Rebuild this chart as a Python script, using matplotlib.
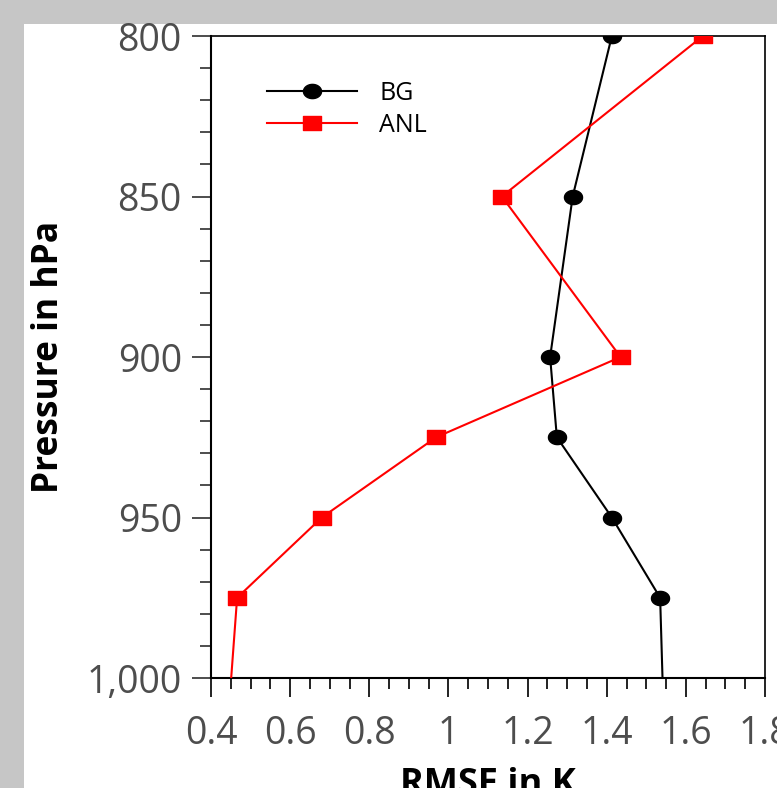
import numpy as np
import matplotlib
matplotlib.use("Agg")
import matplotlib.pyplot as plt
import matplotlib.ticker as mticker
from matplotlib.path import Path
from matplotlib.patches import Rectangle

# Perfiles verticales de RMSE (K) por nivel de presion (hPa)
pressure = [800, 850, 900, 925, 950, 975, 1000]
rmse_bg = [1.413, 1.314, 1.257, 1.274, 1.413, 1.535, 1.541]
rmse_anl = [1.643, 1.135, 1.435, 0.969, 0.680, 0.466, 0.451]

x_ticks = [0.4, 0.6, 0.8, 1.0, 1.2, 1.4, 1.6, 1.8]
y_ticks = [800, 850, 900, 950, 1000]

plt.rcParams["font.family"] = ["Open Sans", "DejaVu Sans"]

TICK_GREY = "#4d4d4d"

# marcadores algo aplastados, como en la figura original
t = np.linspace(0, 2 * np.pi, 60)
ellipse = Path(np.column_stack([1.27 * np.cos(t), np.sin(t)]), closed=True)
rect = Path([(-1.27, -1), (1.27, -1), (1.27, 1), (-1.27, 1), (-1.27, -1)], closed=True)

fig = plt.figure(figsize=(7.77, 7.88), dpi=100, facecolor="#c6c6c6")
fig.patches.append(Rectangle((24 / 777, 0), 1, (788 - 24) / 788,
                             transform=fig.transFigure, facecolor="white",
                             edgecolor="none", zorder=-10))

ax = fig.add_axes([211 / 777, (788 - 678) / 788, 554 / 777, 642 / 788])
ax.set_facecolor("white")

n_mark = slice(0, len(pressure) - 1)
ax.plot(rmse_bg, pressure, color="black", lw=1.5, marker=ellipse, ms=13,
        markevery=n_mark, label="BG", zorder=3)
ax.plot(rmse_anl, pressure, color="red", lw=1.5, marker=rect, ms=13.5,
        markevery=n_mark, label="ANL", zorder=3)

ax.set_xlim(0.4, 1.8)
ax.set_ylim(1000, 800)

ax.xaxis.set_major_locator(mticker.FixedLocator(x_ticks))
ax.xaxis.set_minor_locator(mticker.MultipleLocator(0.05))
ax.yaxis.set_major_locator(mticker.FixedLocator(y_ticks))
ax.yaxis.set_minor_locator(mticker.MultipleLocator(10))
ax.xaxis.set_major_formatter(mticker.FuncFormatter(lambda v, _: f"{v:g}"))
ax.yaxis.set_major_formatter(mticker.FuncFormatter(lambda v, _: f"{int(v):,}"))

ax.tick_params(axis="both", which="major", direction="out", length=14, width=1.4,
               labelsize=27, labelcolor=TICK_GREY)
ax.tick_params(axis="both", which="minor", direction="out", length=8, width=1.4)
ax.tick_params(axis="y", which="both", color=TICK_GREY)
ax.tick_params(axis="x", which="both", color="#222222")
ax.tick_params(axis="y", which="major", pad=7)
ax.tick_params(axis="x", which="major", pad=13)

for side in ["left", "bottom"]:
    ax.spines[side].set_linewidth(1.5)
for side in ["top", "right"]:
    ax.spines[side].set_linewidth(1.2)

ax.set_xlabel("RMSE in K", fontsize=26, fontweight="bold", labelpad=10)
ax.set_ylabel("Pressure in hPa", fontsize=25.5, fontweight="bold", labelpad=14)

ax.legend(loc="upper left", bbox_to_anchor=(0.101, 0.93), frameon=False,
          fontsize=18, handlelength=3.6, handletextpad=0.9, borderpad=0,
          borderaxespad=0, labelspacing=0.28)

fig.savefig("out.png", dpi=100, facecolor=fig.get_facecolor())
